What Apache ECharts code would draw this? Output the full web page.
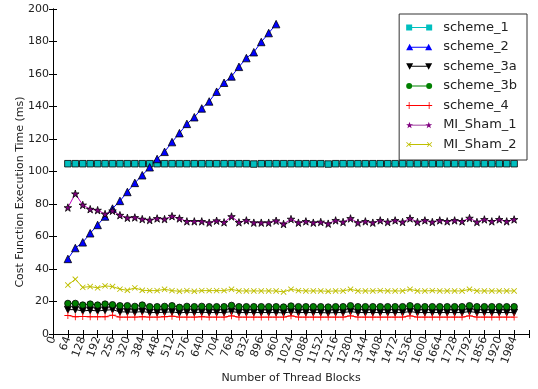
<!DOCTYPE html>
<html>
<head>
<meta charset="utf-8">
<script src="https://cdn.jsdelivr.net/npm/echarts@6/dist/echarts.min.js"></script>
<style>
  html, body { margin: 0; padding: 0; background: #fff; }
  #main { width: 538px; height: 389px; }
</style>
</head>
<body>
<div id="main"></div>
<script>
// thread block counts (x)
var blocks = [64, 96, 128, 160, 192, 224, 256, 288, 320, 352,
  384, 416, 448, 480, 512, 544, 576, 608, 640, 672,
  704, 736, 768, 800, 832, 864, 896, 928, 960, 992,
  1024, 1056, 1088, 1120, 1152, 1184, 1216, 1248, 1280, 1312,
  1344, 1376, 1408, 1440, 1472, 1504, 1536, 1568, 1600, 1632,
  1664, 1696, 1728, 1760, 1792, 1824, 1856, 1888, 1920, 1952,
  1984]

var scheme1 = [104.8, 104.8, 104.8, 104.8, 104.8, 104.8, 104.8, 104.8, 104.8, 104.8,
  104.8, 104.8, 104.8, 104.8, 104.8, 104.8, 104.8, 104.8, 104.8, 104.8,
  104.8, 104.8, 104.8, 104.8, 104.8, 104.6, 104.8, 104.8, 104.8, 104.8,
  104.8, 104.8, 104.8, 104.8, 104.8, 104.6, 104.8, 104.8, 104.8, 104.8,
  104.8, 104.8, 104.8, 104.8, 104.8, 104.8, 104.8, 104.8, 104.8, 104.8,
  104.8, 104.8, 104.8, 104.8, 104.8, 104.8, 104.8, 104.8, 104.8, 104.8,
  104.8]

// scheme_2 only runs up to 960 blocks
var scheme2 = [46.2, 52.9, 56.4, 62.0, 67.1, 72.3, 77.2, 81.9, 87.4, 93.0,
  97.7, 102.6, 107.7, 112.1, 118.1, 123.6, 129.3, 133.4, 138.8, 143.1,
  149.1, 154.6, 158.5, 164.4, 169.8, 173.4, 179.7, 185.2, 190.7]

var scheme3a = [15.0, 15.0, 14.2, 14.6, 14.2, 14.6, 15.0, 13.6, 13.6, 13.4,
  13.8, 13.2, 13.2, 13.4, 13.6, 13.0, 13.4, 13.2, 13.4, 13.2,
  13.2, 13.2, 13.8, 13.2, 13.2, 13.2, 13.2, 13.2, 13.2, 13.0,
  13.6, 13.2, 13.2, 13.2, 13.2, 13.0, 13.2, 13.2, 13.8, 13.2,
  13.2, 13.2, 13.2, 13.2, 13.2, 13.2, 13.8, 13.2, 13.2, 13.2,
  13.2, 13.2, 13.2, 13.2, 13.8, 13.2, 13.2, 13.2, 13.2, 13.2,
  13.2]

var scheme3b = [18.8, 18.8, 17.8, 18.4, 17.8, 18.4, 18.0, 17.4, 17.4, 17.0,
  17.8, 16.8, 16.8, 17.0, 17.4, 16.4, 17.0, 16.8, 17.0, 16.8,
  16.8, 16.8, 17.6, 16.8, 16.8, 16.8, 16.8, 16.8, 16.8, 16.6,
  17.2, 16.8, 16.8, 16.8, 16.8, 16.6, 16.8, 16.8, 17.4, 16.8,
  16.8, 16.8, 16.8, 16.8, 16.8, 16.8, 17.4, 16.8, 16.8, 16.8,
  16.8, 16.8, 16.8, 16.8, 17.4, 16.8, 16.8, 16.8, 16.8, 16.8,
  16.8]

var scheme4 = [11.4, 10.6, 10.8, 10.6, 10.6, 10.6, 11.6, 10.4, 10.4, 10.4,
  10.6, 10.4, 10.4, 10.6, 11.0, 10.4, 10.4, 10.4, 10.6, 10.4,
  10.4, 10.4, 11.2, 10.4, 10.4, 10.4, 10.4, 10.4, 10.4, 10.4,
  11.2, 10.4, 10.4, 10.4, 10.4, 10.4, 10.4, 10.4, 11.2, 10.4,
  10.4, 10.4, 10.4, 10.4, 10.4, 10.4, 11.2, 10.4, 10.4, 10.4,
  10.4, 10.4, 10.4, 10.4, 11.2, 10.4, 10.4, 10.4, 10.4, 10.4,
  10.4]

var miSham1 = [77.8, 86.3, 79.4, 76.8, 76.2, 73.8, 75.8, 73.1, 71.5, 71.7,
  70.7, 70.1, 71.1, 70.7, 72.5, 71.1, 69.3, 69.3, 69.3, 68.5,
  69.7, 68.7, 72.3, 68.7, 69.9, 68.5, 68.5, 68.5, 69.7, 67.7,
  70.7, 68.5, 69.3, 68.5, 68.9, 67.9, 69.9, 68.9, 71.1, 68.5,
  69.3, 68.5, 69.9, 68.9, 69.9, 68.9, 71.1, 68.9, 69.9, 68.9,
  69.9, 69.3, 69.9, 69.3, 71.3, 68.9, 70.5, 69.3, 70.5, 69.3,
  70.5]

var miSham2 = [30.1, 33.7, 28.7, 29.2, 28.4, 29.6, 29.2, 27.6, 26.9, 28.4,
  26.9, 26.7, 26.7, 27.5, 26.7, 26.3, 26.7, 26.3, 26.7, 26.7,
  26.7, 26.7, 27.5, 26.5, 26.5, 26.5, 26.5, 26.5, 26.5, 25.9,
  27.5, 26.7, 26.5, 26.5, 26.5, 26.3, 26.5, 26.5, 27.5, 26.5,
  26.5, 26.5, 26.7, 26.5, 26.5, 26.5, 27.5, 26.5, 26.5, 26.7,
  26.5, 26.5, 26.5, 26.5, 27.5, 26.5, 26.5, 26.5, 26.5, 26.5,
  26.5]

var FONT = 'DejaVu Sans'
var TXT = '#222'

// marker shapes
var downTri = 'path://M0,0L10,0L5,9Z'
var plus = 'path://M4.4,0H5.6V4.4H10V5.6H5.6V10H4.4V5.6H0V4.4H4.4Z'
var star = 'path://M10,0L12.245,6.91L19.51,6.91L13.633,11.18L15.88,18.09L10,13.82L4.12,18.09L6.367,11.18L0.49,6.91L7.755,6.91Z'

// legend icons: marker - line - marker
var lineBar = 'M5,3.6H21V4.4H5Z'
var icons = {
  scheme_1: 'path://M0,1H6V7H0Z M20,1H26V7H20Z ' + lineBar,
  scheme_2: 'path://M0,7L3.5,0.5L7,7Z M19,7L22.5,0.5L26,7Z ' + lineBar,
  scheme_3a: 'path://M0,1L7,1L3.5,7.5Z M19,1L26,1L22.5,7.5Z ' + lineBar,
  scheme_3b: 'path://M0,4A3,3,0,1,1,6,4A3,3,0,1,1,0,4Z M20,4A3,3,0,1,1,26,4A3,3,0,1,1,20,4Z ' + lineBar,
  scheme_4: 'path://M0,3.6H26V4.4H0Z M2.6,0.5H3.4V7.5H2.6Z M22.6,0.5H23.4V7.5H22.6Z',
  MI_Sham_1: 'path://M3,0.5L3.9,3L6.5,3L4.4,4.6L5.2,7.2L3,5.6L0.8,7.2L1.6,4.6L-0.5,3L2.1,3Z M23,0.5L23.9,3L26.5,3L24.4,4.6L25.2,7.2L23,5.6L20.8,7.2L21.6,4.6L19.5,3L22.1,3Z ' + lineBar,
  MI_Sham_2: 'path://M0.5,1.1L1.1,0.5L3,2.4L4.9,0.5L5.5,1.1L3.6,3L5.5,4.9L4.9,5.5L3,3.6L1.1,5.5L0.5,4.9L2.4,3Z M20.5,1.1L21.1,0.5L23,2.4L24.9,0.5L25.5,1.1L23.6,3L25.5,4.9L24.9,5.5L23,3.6L21.1,5.5L20.5,4.9L22.4,3Z M3,2.6H23V3.4H3Z'
}

function pairs (ys) {
  var out = []
  for (var i = 0; i < ys.length; i++) out.push([blocks[i], ys[i]])
  return out
}

function makeSeries (name, ys, color, symbol, size, extra) {
  var s = {
    name: name,
    type: 'line',
    data: pairs(ys),
    symbol: symbol,
    symbolSize: size,
    showAllSymbol: true,
    lineStyle: { color: color, width: 1 },
    itemStyle: { color: color, borderColor: '#000', borderWidth: 0.8 },
    emphasis: { disabled: true }
  }
  for (var k in extra) s[k] = extra[k]
  return s
}

var seriesList = [
  makeSeries('scheme_1', scheme1, '#00bfbf', 'rect', 6.5, {}),
  makeSeries('scheme_2', scheme2, '#0000ff', 'triangle', 7.5, {}),
  makeSeries('scheme_3a', scheme3a, '#000000', downTri, 7, {}),
  makeSeries('scheme_3b', scheme3b, '#008000', 'circle', 6.5, {}),
  makeSeries('scheme_4', scheme4, '#ff0000', plus, 7, { itemStyle: { color: '#ff0000', borderWidth: 0 } }),
  makeSeries('MI_Sham_1', miSham1, '#bf00bf', star, 7.5, { itemStyle: { color: '#800080', borderColor: '#000', borderWidth: 0.8 } }),
  makeSeries('MI_Sham_2', miSham2, '#bfbf00', plus, 7.5, { symbolRotate: 45, itemStyle: { color: '#bfbf00', borderWidth: 0 } })
]

var legendColors = ['#00bfbf', '#0000ff', '#000000', '#008000', '#ff0000', '#800080', '#bfbf00']
var legendData = seriesList.map(function (s, i) {
  return { name: s.name, icon: icons[s.name], itemStyle: { color: legendColors[i], borderWidth: 0 } }
})

var chart = echarts.init(document.getElementById('main'), null, { renderer: 'canvas' })
chart.setOption({
  animation: false,
  backgroundColor: '#fff',
  textStyle: { fontFamily: FONT, color: TXT },
  grid: { left: 53, right: 9, top: 9, bottom: 51 },
  legend: {
    data: legendData,
    orient: 'vertical',
    right: 11,
    top: 14,
    padding: [6, 10, 8, 7],
    itemGap: 4.5,
    itemWidth: 26,
    itemHeight: 8,
    backgroundColor: '#fff',
    borderColor: '#333',
    borderWidth: 1,
    borderRadius: 0,
    selectedMode: false,
    textStyle: { fontFamily: FONT, fontSize: 13, color: TXT, lineHeight: 15, padding: [0, 0, 0, 6] }
  },
  xAxis: [{
    type: 'value',
    min: 0,
    max: 2048,
    interval: 64,
    name: 'Number of Thread Blocks',
    nameLocation: 'middle',
    nameGap: 39,
    nameTextStyle: { fontFamily: FONT, fontSize: 11, color: TXT },
    axisLine: { lineStyle: { color: '#000', width: 1 } },
    axisTick: { inside: true, length: 4, lineStyle: { color: '#000' } },
    axisLabel: {
      rotate: 70,
      margin: 3,
      fontFamily: FONT,
      fontSize: 11,
      color: TXT,
      formatter: function (v) { return v === 2048 ? '' : String(v) }
    },
    splitLine: { show: false }
  }, {
    type: 'value',
    position: 'top',
    min: 0,
    max: 2048,
    interval: 64,
    axisLine: { show: true, lineStyle: { color: '#000', width: 1 } },
    axisTick: { inside: true, length: 4, lineStyle: { color: '#000' } },
    axisLabel: { show: false },
    splitLine: { show: false }
  }],
  yAxis: [{
    type: 'value',
    min: 0,
    max: 200,
    interval: 20,
    axisLine: { show: true, lineStyle: { color: '#000', width: 1 } },
    axisTick: { show: true, inside: true, length: 4, lineStyle: { color: '#000' } },
    axisLabel: { margin: 4, fontFamily: FONT, fontSize: 11, color: TXT },
    splitLine: { show: false }
  }, {
    type: 'value',
    position: 'right',
    min: 0,
    max: 200,
    interval: 20,
    axisLine: { show: true, lineStyle: { color: '#000', width: 1 } },
    axisTick: { show: true, inside: true, length: 4, lineStyle: { color: '#000' } },
    axisLabel: { show: false },
    splitLine: { show: false }
  }],
  graphic: [{
    type: 'text',
    x: 20,
    y: 192,
    rotation: Math.PI / 2,
    style: {
      text: 'Cost Function Execution Time (ms)',
      fontFamily: FONT,
      fontSize: 11,
      fill: TXT,
      align: 'center',
      verticalAlign: 'middle'
    }
  }],
  series: seriesList
})
</script>
</body>
</html>
